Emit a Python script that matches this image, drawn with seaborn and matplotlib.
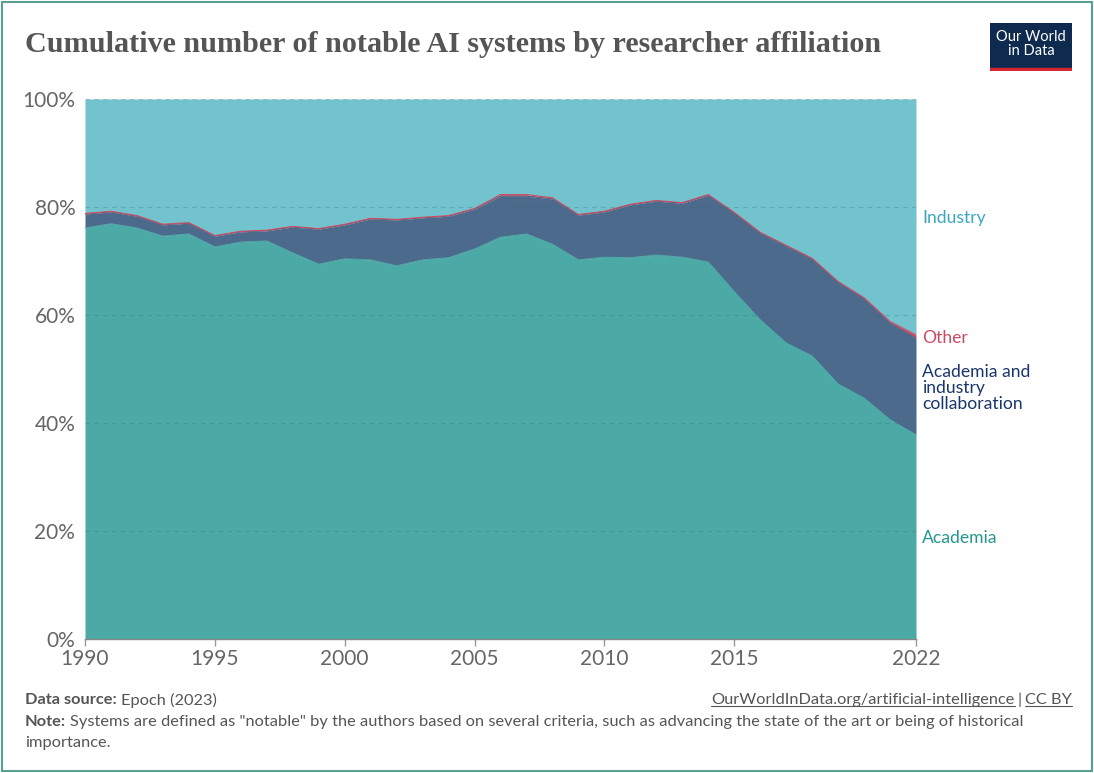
import numpy as np
import pandas as pd
import matplotlib.pyplot as plt
import seaborn as sns
from matplotlib.patches import Rectangle
from matplotlib.lines import Line2D

years = list(range(1990, 2023))

# shares in %
academia = [76.1, 76.9, 76.1, 74.6, 75.0, 72.6, 73.5, 73.7, 71.5, 69.4,
            70.4, 70.2, 69.1, 70.2, 70.6, 72.2, 74.4, 75.0, 73.1, 70.2,
            70.7, 70.6, 71.1, 70.7, 69.8, 64.3, 59.1, 54.8, 52.4, 47.2,
            44.6, 40.6, 37.8]
collaboration = [2.6, 2.2, 2.2, 2.1, 2.0, 2.0, 1.9, 1.9, 4.8, 6.5,
                 6.3, 7.6, 8.5, 7.8, 7.7, 7.4, 7.6, 7.0, 8.4, 8.3,
                 8.4, 9.8, 10.0, 10.0, 12.4, 14.6, 16.1, 18.0, 18.0, 18.9,
                 18.4, 17.9, 17.9]
other = [0.1, 0.1, 0.1, 0.1, 0.1, 0.1, 0.1, 0.1, 0.1, 0.1,
         0.1, 0.1, 0.1, 0.1, 0.1, 0.1, 0.3, 0.3, 0.2, 0.1,
         0.1, 0.1, 0.1, 0.1, 0.1, 0.1, 0.1, 0.1, 0.1, 0.1,
         0.2, 0.3, 0.6]

df = pd.DataFrame({"Year": years, "Academia": academia,
                   "Academia and industry collaboration": collaboration,
                   "Other": other})
df["Industry"] = 100 - df["Academia"] - df["Academia and industry collaboration"] - df["Other"]

colors = {
    "Academia": "#4ba9a6",
    "Academia and industry collaboration": "#4c6a8c",
    "Other": "#cf4c60",
    "Industry": "#73c3cf",
}
label_colors = {
    "Industry": "#3ba7bd",
    "Other": "#c84a60",
    "Academia and industry collaboration": "#18366b",
    "Academia": "#24968f",
}
series = ["Academia", "Academia and industry collaboration", "Other", "Industry"]

sns.set_theme(style="white")
plt.rcParams["font.family"] = ["Lato", "DejaVu Sans"]

fig = plt.figure(figsize=(10.94, 7.73), dpi=100)
ax = fig.add_axes([85 / 1094, 1 - 639 / 773, (916 - 85) / 1094, (639 - 99) / 773])

ax.stackplot(df["Year"], *[df[s] for s in series],
             colors=[colors[s] for s in series], linewidth=0, zorder=1)

# thin boundary lines
cum = np.zeros(len(df))
for s in series[:-1]:
    cum = cum + df[s].values
    sns.lineplot(x=df["Year"], y=cum, ax=ax, color=colors[s], lw=0.8, zorder=2)

ax.set_xlim(1990, 2022)
ax.set_ylim(0, 100)
ax.set_yticks([0, 20, 40, 60, 80, 100])
ax.set_yticklabels([f"{v}%" for v in [0, 20, 40, 60, 80, 100]])
ax.set_xticks([1990, 1995, 2000, 2005, 2010, 2015, 2022])
ax.tick_params(axis="y", length=0, labelsize=15, labelcolor="#666666", pad=7)
ax.tick_params(axis="x", length=5, color="#999999", width=1, direction="out",
               labelsize=15, labelcolor="#666666", pad=2, bottom=True)
for y in [20, 40, 60, 80, 100]:
    ax.axhline(y, color="#2f6f7a", lw=0.8, ls=(0, (4, 4)), alpha=0.3, zorder=3)
for sp in ["top", "right", "left"]:
    ax.spines[sp].set_visible(False)
ax.spines["bottom"].set_color("#888888")
ax.spines["bottom"].set_linewidth(1)
ax.set_xlabel("")
ax.set_ylabel("")

# right-hand labels
lx = 922 / 1094
fs_lab = 12.6
fig.text(lx, 1 - 218 / 773, "Industry", color=label_colors["Industry"], fontsize=fs_lab, va="center")
fig.text(lx, 1 - 338 / 773, "Other", color=label_colors["Other"], fontsize=fs_lab, va="center")
fig.text(lx, 1 - 388 / 773, "Academia and\nindustry\ncollaboration",
         color=label_colors["Academia and industry collaboration"], fontsize=fs_lab,
         va="center", linespacing=1.02)
fig.text(lx, 1 - 538 / 773, "Academia", color=label_colors["Academia"], fontsize=fs_lab, va="center")

# title
fig.text(25 / 1094, 1 - 44 / 773, "Cumulative number of notable AI systems by researcher affiliation",
         fontsize=21.7, color="#555555", fontweight="bold", va="center",
         family=["Liberation Serif", "DejaVu Serif"])

# logo
logo = fig.add_axes([990 / 1094, 1 - 71 / 773, 82 / 1094, 48 / 773])
logo.add_patch(Rectangle((0, 0), 1, 1, color="#0e2a4f"))
logo.add_patch(Rectangle((0, 0), 1, 0.07, color="#d4262f"))
logo.text(0.5, 0.56, "Our World\nin Data", color="white", ha="center", va="center",
          fontsize=10.5, linespacing=1.0)
logo.set_xlim(0, 1)
logo.set_ylim(0, 1)
logo.axis("off")

# footer: bold lead-in followed by regular text
renderer = fig.canvas.get_renderer()
fs_foot = 11.8
W, H = fig.bbox.width, fig.bbox.height


def lead_text(x_px, y_px, bold, rest):
    t = fig.text(x_px / 1094, 1 - y_px / 773, bold, fontsize=fs_foot, color="#555555",
                 fontweight="bold", va="center")
    bb = t.get_window_extent(renderer=renderer)
    fig.text(bb.x1 / W + 4 / 1094, 1 - y_px / 773, rest, fontsize=fs_foot,
             color="#555555", va="center")


lead_text(25, 700, "Data source:", "Epoch (2023)")

# url + licence, underlined
lic = fig.text(1072 / 1094, 1 - 700 / 773, "CC BY", fontsize=fs_foot, color="#555555",
               va="center", ha="right")
lb = lic.get_window_extent(renderer=renderer)
sep = fig.text(lb.x0 / W - 3 / 1094, 1 - 700 / 773, "|", fontsize=fs_foot, color="#555555",
               va="center", ha="right")
sb = sep.get_window_extent(renderer=renderer)
url = fig.text(sb.x0 / W - 3 / 1094, 1 - 700 / 773, "OurWorldInData.org/artificial-intelligence",
               fontsize=fs_foot, color="#555555", va="center", ha="right")
ub = url.get_window_extent(renderer=renderer)
for b in (lb, ub):
    fig.add_artist(Line2D([b.x0 / W, b.x1 / W], [(b.y0 + 1) / H, (b.y0 + 1) / H],
                          transform=fig.transFigure, color="#555555", lw=0.8))

lead_text(25, 722, "Note:", 'Systems are defined as "notable" by the authors based on several criteria, '
                            "such as advancing the state of the art or being of historical")
fig.text(25 / 1094, 1 - 743 / 773, "importance.", fontsize=fs_foot, color="#555555", va="center")

# frame
fig.patches.append(Rectangle((0.002, 0.002), 0.996, 0.996, transform=fig.transFigure,
                             fill=False, edgecolor="#5aa08f", lw=1.5))

fig.savefig("out.png", dpi=100)
